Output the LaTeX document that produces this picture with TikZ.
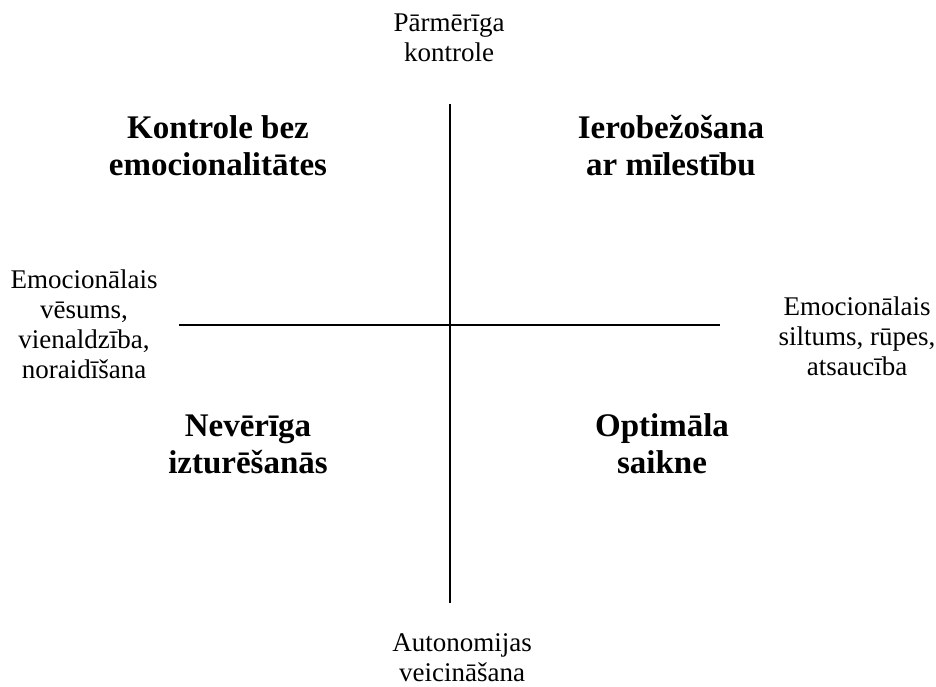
\documentclass[tikz,border=0pt]{standalone}
\usepackage{fontspec}
\setmainfont{Liberation Serif}

\begin{document}
\begin{tikzpicture}[x=0.5pt,y=0.5pt,
    axislabel/.style={align=center,inner sep=0pt,font=\fontsize{13.5}{15}\selectfont},
    quadrant/.style={align=center,inner sep=0pt,font=\fontsize{16.5}{18.5}\selectfont\bfseries}]
    \useasboundingbox (0,0) rectangle (936,-686);
    % axes
    \coordinate (top) at (450,-104);
    \coordinate (bottom) at (450,-603);
    \coordinate (left) at (179,-325);
    \coordinate (right) at (720,-325);
    \draw [black,line width=1.4pt] (top) -- (bottom);
    \draw [black,line width=1.4pt] (left) -- (right);
    % axis labels
    \node [axislabel] (control) at (449,-38) {Pārmērīga\\kontrole};
    \node [axislabel] (autonomy) at (462,-658) {Autonomijas\\veicināšana};
    \node [axislabel] (cold) at (84,-324) {Emocionālais\\vēsums,\\vienaldzība,\\noraidīšana};
    \node [axislabel] (warm) at (857,-336) {Emocionālais\\siltums, rūpes,\\atsaucība};
    % quadrants
    \node [quadrant] (q1) at (218,-146) {Kontrole bez\\emocionalitātes};
    \node [quadrant] (q2) at (671,-146) {Ierobežošana\\ar mīlestību};
    \node [quadrant] (q3) at (248,-444) {Nevērīga\\izturēšanās};
    \node [quadrant] (q4) at (662,-444) {Optimāla\\saikne};
\end{tikzpicture}
\end{document}
